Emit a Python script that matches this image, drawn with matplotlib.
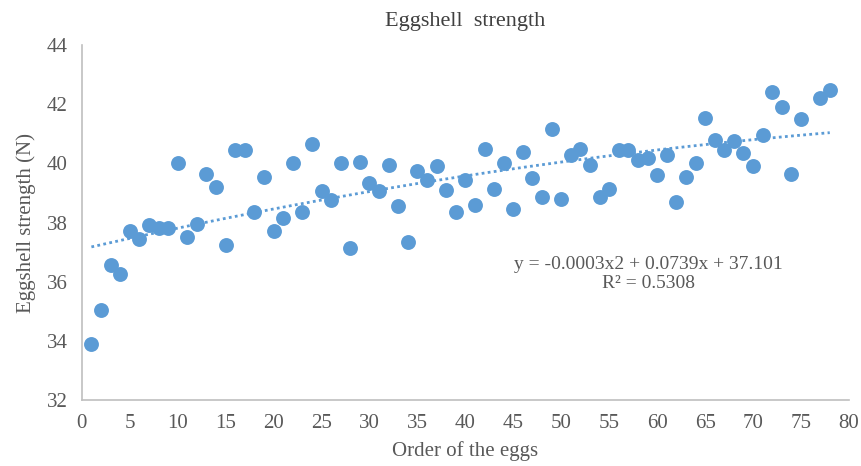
import numpy as np
import matplotlib.pyplot as plt

# egg order and measured shell strength (N)
order = [1, 2, 3, 4, 5, 6, 7, 8, 9, 10, 11, 12, 13, 14, 15, 16, 17, 18, 19, 20,
         21, 22, 23, 24, 25, 26, 27, 28, 29, 30, 31, 32, 33, 34, 35, 36, 37, 38, 39, 40,
         41, 42, 43, 44, 45, 46, 47, 48, 49, 50, 51, 52, 53, 54, 55, 56, 57, 58, 59, 60,
         61, 62, 63, 64, 65, 66, 67, 68, 69, 70, 71, 72, 73, 74, 75, 77, 78]
strength = [33.9, 35.05, 36.55, 36.25, 37.7, 37.45, 37.9, 37.8, 37.8, 40.0,
            37.5, 37.95, 39.65, 39.2, 37.25, 40.45, 40.45, 38.35, 39.55, 37.7,
            38.15, 40.0, 38.35, 40.65, 39.05, 38.75, 40.0, 37.15, 40.05, 39.35,
            39.05, 39.95, 38.55, 37.35, 39.75, 39.45, 39.9, 39.1, 38.35, 39.45,
            38.6, 40.5, 39.15, 40.0, 38.45, 40.4, 39.5, 38.85, 41.15, 38.8,
            40.3, 40.5, 39.95, 38.85, 39.15, 40.45, 40.45, 40.1, 40.2, 39.6,
            40.3, 38.7, 39.55, 40.0, 41.55, 40.8, 40.45, 40.75, 40.35, 39.9,
            40.95, 42.4, 41.9, 39.65, 41.5, 42.2, 42.5]

# quadratic trendline coefficients as printed on the chart
coef = [-0.0003, 0.0739, 37.101]

xticks = list(range(0, 81, 5))
yticks = list(range(32, 45, 2))

blue = "#5B9BD5"
grey = "#595959"

plt.rcParams["font.family"] = ["Liberation Serif", "DejaVu Serif"]

fig = plt.figure(figsize=(8.61, 4.66), dpi=100)
ax = fig.add_axes([0.095, 0.142, 0.891, 0.761])

ax.scatter(order, strength, s=115, color=blue, zorder=3, linewidths=0)

xt = np.linspace(min(order), max(order), 200)
ax.plot(xt, np.polyval(coef, xt), linestyle=(0, (1, 1.2)), color=blue, lw=2, zorder=2)

ax.set_xlim(0, 80)
ax.set_ylim(32, 44)
ax.set_xticks(xticks)
ax.set_yticks(yticks)
ax.tick_params(length=0, labelsize=15, colors=grey, pad=10)

for s in ["top", "right"]:
    ax.spines[s].set_visible(False)
for s in ["left", "bottom"]:
    ax.spines[s].set_color("#BFBFBF")
    ax.spines[s].set_linewidth(1.2)

ax.set_title("Eggshell  strength", fontsize=16, color="#404040", pad=14)
ax.set_xlabel("Order of the eggs", fontsize=15, color=grey, labelpad=6)
ax.set_ylabel("Eggshell strength (N)", fontsize=15, color=grey, labelpad=8)

ax.text(0.739, 0.355, "y = -0.0003x2 + 0.0739x + 37.101\nR\u00b2 = 0.5308",
        transform=ax.transAxes, ha="center", va="center", fontsize=14,
        color=grey, linespacing=1.1)

fig.savefig("out.png", dpi=100)
